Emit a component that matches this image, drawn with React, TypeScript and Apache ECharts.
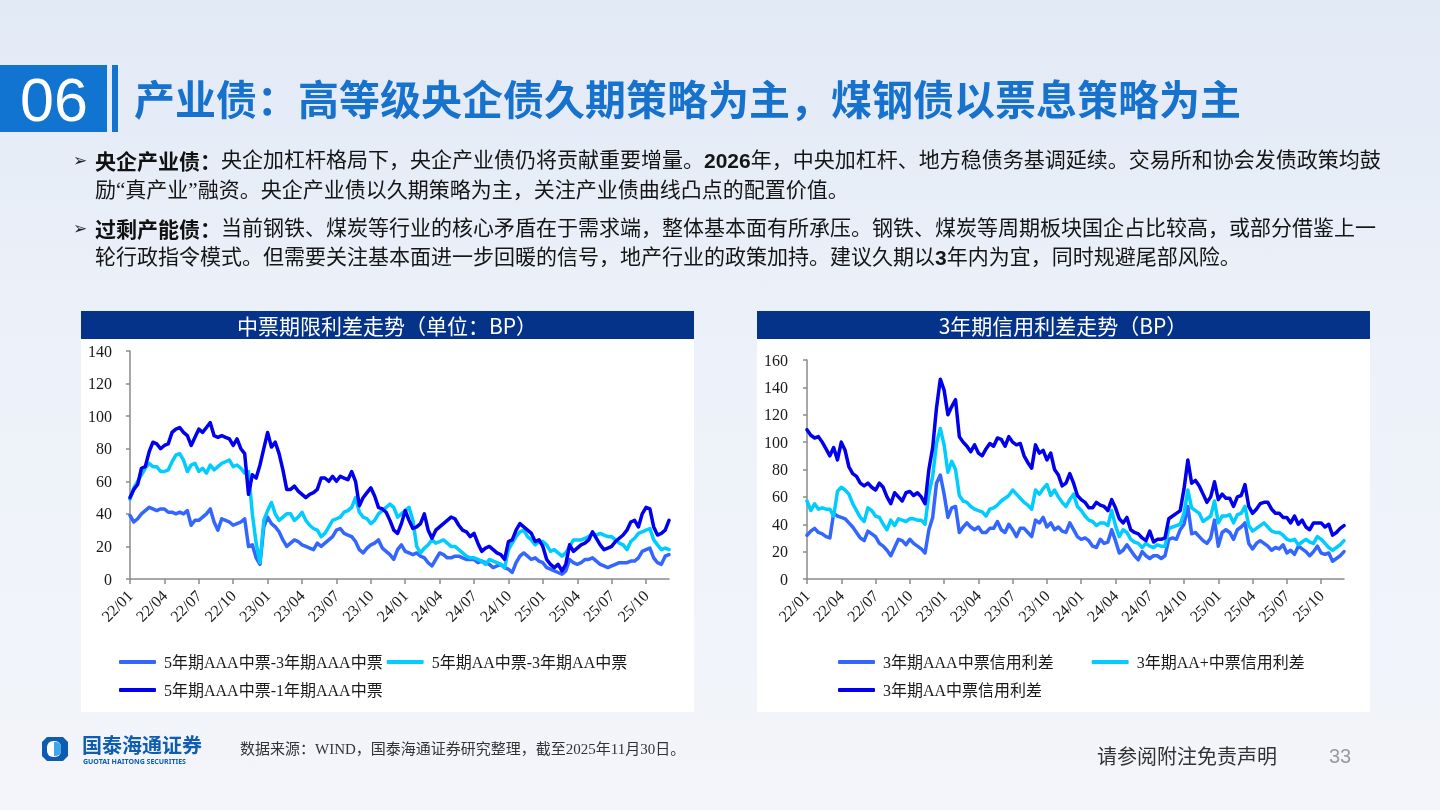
import { useEffect, useRef } from "react";
import * as echarts from "echarts";

// ---------- sampling dates: 1st / 11th / 21st of each month, plus the 2025-11-30 close ----------
const pad = (n: number) => (n < 10 ? "0" + n : "" + n);
function buildDates(): string[] {
  const out: string[] = [];
  for (let y = 2022; y <= 2025; y++) {
    for (let m = 1; m <= 12; m++) {
      if (y === 2025 && m > 11) break;
      for (const d of [1, 11, 21]) out.push(`${y}-${pad(m)}-${pad(d)}`);
    }
  }
  out.push("2025-11-30");
  return out;
}
const dates = buildDates();
const quarterMonths = ["01", "04", "07", "10"];

// ---------- left chart: 中票期限利差 (BP) ----------
const leftNames = ["5年期AAA中票-3年期AAA中票", "5年期AA中票-3年期AA中票", "5年期AAA中票-1年期AAA中票"];
const aaa5y3y = [
  39, 35, 37, 40, 42, 44, 43, 42, 43, 43, 41, 41, 40, 41, 40, 42, 33, 36, 36, 38, 40, 43, 35, 30, 37, 36, 35, 33, 34, 35, 37, 20, 21, 13, 9, 32,
  38, 34, 32, 29, 24, 20, 22, 24, 23, 21, 20, 19, 18, 22, 20, 22, 24, 26, 30, 31, 28, 27, 26, 23, 18, 16, 19, 21, 22, 24, 19, 17, 15, 12, 18, 21,
  17, 16, 15, 16, 14, 13, 10, 8, 12, 16, 15, 13, 13, 14, 14, 13, 12, 12, 12, 10, 11, 10, 9, 7, 8, 9, 7, 6, 4, 10, 14, 16, 14, 12, 13, 11,
  10, 7, 6, 5, 4, 3, 5, 12, 10, 9, 10, 12, 12, 13, 11, 9, 8, 7, 8, 9, 10, 10, 10, 11, 11, 13, 17, 18, 19, 13, 10, 9, 14, 15,
];
const aa5y3y = [
  49, 56, 60, 64, 68, 71, 69, 69, 66, 66, 67, 72, 76, 77, 73, 66, 70, 71, 66, 68, 65, 70, 67, 69, 71, 72, 73, 69, 70, 68, 65, 66, 40, 22, 10, 36,
  42, 47, 40, 36, 38, 40, 40, 36, 38, 41, 36, 33, 31, 30, 26, 28, 32, 36, 37, 38, 41, 42, 44, 50, 41, 38, 37, 34, 36, 40, 42, 44, 46, 44, 38, 40,
  42, 44, 36, 20, 16, 19, 21, 24, 22, 23, 24, 22, 20, 20, 18, 16, 14, 13, 13, 12, 11, 9, 12, 11, 10, 9, 7, 18, 22, 26, 29, 30, 26, 24, 21, 23,
  23, 21, 17, 18, 16, 14, 16, 20, 24, 24, 24, 25, 26, 28, 27, 28, 27, 26, 26, 24, 22, 21, 18, 23, 25, 28, 29, 30, 31, 24, 21, 18, 19, 18,
];
const aaa5y1y = [
  50, 55, 58, 68, 69, 78, 84, 83, 80, 82, 83, 90, 92, 93, 90, 88, 82, 87, 92, 90, 93, 96, 88, 87, 88, 87, 86, 82, 86, 80, 77, 52, 64, 62, 70, 80,
  90, 81, 84, 77, 67, 55, 55, 57, 54, 52, 50, 52, 53, 55, 62, 62, 60, 63, 60, 63, 62, 61, 66, 60, 45, 50, 53, 56, 51, 44, 43, 41, 36, 30, 28, 34,
  42, 36, 31, 32, 34, 40, 30, 25, 30, 32, 34, 36, 38, 37, 33, 30, 29, 26, 28, 22, 17, 19, 20, 18, 16, 15, 12, 23, 24, 30, 34, 32, 30, 28, 23, 24,
  20, 12, 9, 7, 9, 5, 9, 21, 17, 19, 21, 22, 24, 29, 25, 21, 18, 19, 20, 23, 25, 27, 30, 35, 36, 32, 40, 44, 43, 32, 27, 28, 30, 36,
];
const leftYTicks = [0, 20, 40, 60, 80, 100, 120, 140];

// ---------- right chart: 3年期信用利差 (BP) ----------
const rightNames = ["3年期AAA中票信用利差", "3年期AA+中票信用利差", "3年期AA中票信用利差"];
const aaa3y = [
  32, 35, 37, 34, 33, 31, 30, 48, 46, 45, 44, 41, 38, 34, 30, 28, 35, 33, 31, 26, 24, 21, 17, 23, 29, 28, 25, 29, 26, 24, 22, 19, 36, 45, 70, 76,
  62, 45, 52, 53, 34, 38, 41, 38, 36, 38, 34, 34, 37, 37, 42, 36, 34, 40, 36, 31, 37, 37, 34, 31, 43, 41, 45, 38, 41, 36, 38, 35, 34, 41, 36, 31,
  29, 30, 28, 24, 23, 29, 26, 27, 36, 28, 19, 21, 25, 21, 17, 14, 20, 17, 15, 17, 17, 15, 17, 29, 30, 29, 36, 40, 53, 33, 34, 31, 28, 26, 30, 43,
  24, 34, 36, 34, 29, 36, 38, 41, 26, 22, 26, 28, 26, 24, 21, 23, 22, 25, 19, 21, 18, 24, 22, 20, 17, 20, 24, 19, 18, 19, 13, 15, 17, 20,
];
const aaPlus3y = [
  57, 50, 55, 51, 52, 51, 51, 46, 64, 67, 65, 62, 55, 50, 45, 42, 52, 50, 46, 45, 40, 36, 43, 39, 44, 43, 42, 44, 44, 43, 43, 40, 62, 75, 99, 110,
  98, 78, 86, 80, 61, 57, 56, 53, 51, 50, 49, 46, 51, 52, 54, 57, 59, 61, 65, 62, 59, 56, 54, 51, 65, 62, 66, 69, 61, 65, 60, 56, 53, 58, 62, 53,
  50, 46, 43, 42, 39, 41, 41, 39, 50, 39, 31, 36, 34, 29, 27, 26, 23, 26, 24, 23, 25, 24, 24, 37, 38, 39, 40, 48, 65, 52, 50, 48, 42, 44, 46, 57,
  41, 46, 46, 47, 41, 47, 48, 53, 39, 35, 37, 39, 41, 38, 35, 34, 34, 32, 29, 28, 29, 25, 27, 29, 27, 26, 31, 29, 26, 23, 21, 23, 25, 28,
];
const aa3y = [
  109, 105, 103, 104, 100, 95, 90, 96, 87, 100, 94, 82, 77, 75, 70, 68, 70, 67, 65, 70, 67, 60, 55, 63, 60, 57, 63, 64, 61, 63, 60, 55, 80, 96, 125, 146,
  138, 120, 126, 131, 104, 100, 97, 93, 98, 92, 90, 95, 99, 97, 103, 102, 97, 104, 100, 98, 99, 90, 85, 81, 98, 92, 94, 87, 92, 80, 76, 68, 70, 77, 70, 61,
  58, 56, 52, 52, 56, 54, 53, 50, 58, 52, 44, 41, 45, 36, 34, 33, 30, 28, 35, 27, 29, 29, 30, 44, 46, 48, 50, 66, 87, 70, 72, 68, 62, 56, 60, 71,
  58, 62, 59, 59, 53, 60, 61, 69, 53, 48, 51, 55, 56, 56, 51, 48, 48, 45, 45, 41, 46, 40, 43, 38, 36, 41, 41, 41, 38, 40, 32, 34, 37, 39,
];
const rightYTicks = [0, 20, 40, 60, 80, 100, 120, 140, 160];

const colorMid = "#3366ff";
const colorCyan = "#00ccff";
const colorDark = "#0000ee";

// ---------- slide text ----------
const slideTitle = "产业债：高等级央企债久期策略为主，煤钢债以票息策略为主";
const bodyLines = [
  "{b|央企产业债：}央企加杠杆格局下，央企产业债仍将贡献重要增量。{d|2026}年，中央加杠杆、地方稳债务基调延续。交易所和协会发债政策均鼓",
  "励“真产业”融资。央企产业债以久期策略为主，关注产业债曲线凸点的配置价值。",
  "{b|过剩产能债：}当前钢铁、煤炭等行业的核心矛盾在于需求端，整体基本面有所承压。钢铁、煤炭等周期板块国企占比较高，或部分借鉴上一",
  "轮行政指令模式。但需要关注基本面进一步回暖的信号，地产行业的政策加持。建议久期以{d|3}年内为宜，同时规避尾部风险。",
];
const bodyLineY = [160, 190, 228, 257];
const bulletY = [160, 228];

const SERIF = "'Liberation Serif', 'Noto Sans CJK SC', serif";
const SANS_CJK = "'Noto Sans CJK SC', 'Noto Sans', sans-serif";
const AXIS_GRAY = "#8a8a8a";

function isQuarterStart(value: string) {
  return value.slice(8) === "01" && quarterMonths.includes(value.slice(5, 7));
}

function xAxisFor(gridIndex: number) {
  return {
    type: "category",
    gridIndex,
    data: dates,
    boundaryGap: false,
    axisLine: { lineStyle: { color: AXIS_GRAY, width: 1.5 } },
    axisTick: {
      interval: (_i: number, v: string) => isQuarterStart(v),
      length: 5,
      lineStyle: { color: AXIS_GRAY, width: 1.5 },
    },
    axisLabel: {
      interval: (_i: number, v: string) => isQuarterStart(v),
      formatter: (v: string) => v.slice(2, 4) + "/" + v.slice(5, 7),
      rotate: 45,
      margin: 14,
      fontFamily: SERIF,
      fontSize: 16,
      color: "#1a1a1a",
    },
    splitLine: { show: false },
  };
}

function yAxisFor(gridIndex: number, ticks: number[], margin: number) {
  return {
    type: "value",
    gridIndex,
    min: ticks[0],
    max: ticks[ticks.length - 1],
    interval: ticks[1] - ticks[0],
    axisLine: { show: true, lineStyle: { color: AXIS_GRAY, width: 1.5 } },
    axisTick: { show: true, length: 4, lineStyle: { color: AXIS_GRAY, width: 1.5 } },
    axisLabel: { margin, fontFamily: SERIF, fontSize: 16, color: "#1a1a1a" },
    splitLine: { show: false },
  };
}

function lineSeries(name: string, data: number[], color: string, idx: number) {
  return {
    type: "line",
    name,
    data,
    xAxisIndex: idx,
    yAxisIndex: idx,
    showSymbol: false,
    symbol: "none",
    silent: true,
    color,
    lineStyle: { color, width: 3.5, cap: "round", join: "round" },
    emphasis: { disabled: true },
  };
}

// horizontal spacing between items comes from the text's right padding so rows stay tight
function legendFor(names: string[], left: number, extraGap: number, width: number) {
  return {
    data: names,
    left,
    top: 645,
    width,
    orient: "horizontal",
    icon: "roundRect",
    itemWidth: 37,
    itemHeight: 4,
    itemGap: 4,
    selectedMode: false,
    textStyle: {
      fontFamily: SERIF,
      fontSize: 16,
      color: "#1a1a1a",
      lineHeight: 24,
      padding: [0, extraGap, 0, 3],
    },
  };
}

function panel(x: number, title: string) {
  return [
    { type: "rect", z: -1, shape: { x, y: 311, width: 613, height: 401 }, style: { fill: "#ffffff" } },
    { type: "rect", z: -1, shape: { x, y: 311, width: 613, height: 28 }, style: { fill: "#043389" } },
    {
      type: "text",
      x: x + 306,
      y: 325,
      style: {
        text: title,
        fill: "#ffffff",
        font: `21px ${SANS_CJK}`,
        align: "center",
        verticalAlign: "middle",
      },
    },
  ];
}

function buildGraphics() {
  const els: any[] = [];
  els.push({
    type: "rect",
    z: -2,
    shape: { x: 0, y: 0, width: 1440, height: 810 },
    style: {
      fill: new echarts.graphic.LinearGradient(0, 0, 0, 1, [
        { offset: 0, color: "#e2eaf6" },
        { offset: 0.45, color: "#edf1f9" },
        { offset: 1, color: "#f3f5fa" },
      ]),
    },
  });
  // section tag
  els.push({ type: "rect", shape: { x: 0, y: 65, width: 107, height: 67 }, style: { fill: "#1274d1" } });
  els.push({ type: "rect", shape: { x: 112, y: 65, width: 6, height: 67 }, style: { fill: "#1274d1" } });
  els.push({
    type: "text",
    x: 54,
    y: 100,
    style: { text: "06", fill: "#ffffff", font: "61px 'Liberation Sans', Arial, sans-serif", align: "center", verticalAlign: "middle" },
  });
  els.push({
    type: "text",
    x: 134,
    y: 97,
    style: { text: slideTitle, fill: "#1672cc", font: `bold 41px ${SANS_CJK}`, verticalAlign: "middle" },
  });
  // bullets + body
  bulletY.forEach((y) =>
    els.push({
      type: "text",
      x: 73,
      y,
      style: { text: "➢", fill: "#222222", font: "17px 'DejaVu Sans', sans-serif", verticalAlign: "middle" },
    })
  );
  bodyLines.forEach((t, i) =>
    els.push({
      type: "text",
      x: 95,
      y: bodyLineY[i],
      style: {
        text: t,
        fill: "#151515",
        font: `21px ${SERIF}`,
        verticalAlign: "middle",
        rich: {
          b: { fontWeight: "bold", fontSize: 21, fontFamily: SANS_CJK, fill: "#111111" },
          d: { fontWeight: "bold", fontSize: 21, fontFamily: "'Liberation Sans', sans-serif", fill: "#151515" },
        },
      },
    })
  );
  els.push(...panel(81, "中票期限利差走势（单位：BP）"));
  els.push(...panel(757, "3年期信用利差走势（BP）"));
  // footer logo
  els.push({
    type: "polygon",
    shape: { points: [[47, 737], [63, 737], [68, 742], [68, 756], [63, 761], [47, 761], [42, 756], [42, 742]] },
    style: { fill: "#0d5cb0" },
  });
  els.push({ type: "rect", shape: { x: 47, y: 741, width: 14, height: 16, r: 6 }, style: { fill: "#ffffff" } });
  els.push({ type: "rect", shape: { x: 54, y: 742, width: 7, height: 14, r: [0, 5, 5, 0] }, style: { fill: "#3fa6ee" } });
  els.push({
    type: "text",
    x: 82,
    y: 744,
    style: { text: "国泰海通证券", fill: "#0f5db3", font: `bold 20px ${SANS_CJK}`, verticalAlign: "middle" },
  });
  els.push({
    type: "text",
    x: 83,
    y: 761,
    style: { text: "GUOTAI HAITONG SECURITIES", fill: "#0f5db3", font: "bold 7px 'Noto Sans', sans-serif", verticalAlign: "middle" },
  });
  els.push({
    type: "text",
    x: 240,
    y: 749,
    style: { text: "数据来源：WIND，国泰海通证券研究整理，截至2025年11月30日。", fill: "#333333", font: `15px ${SERIF}`, verticalAlign: "middle" },
  });
  els.push({
    type: "text",
    x: 1097,
    y: 755,
    style: { text: "请参阅附注免责声明", fill: "#333333", font: `20px ${SANS_CJK}`, verticalAlign: "middle" },
  });
  els.push({
    type: "text",
    x: 1329,
    y: 756,
    style: { text: "33", fill: "#9a9a9a", font: "20px 'Liberation Sans', sans-serif", verticalAlign: "middle" },
  });
  return els;
}

export default function App() {
  const ref = useRef<HTMLDivElement>(null);
  useEffect(() => {
    if (!ref.current) return;
    const chart = echarts.init(ref.current, null, { renderer: "svg" });
    chart.setOption({
      animation: false,
      graphic: { elements: buildGraphics() },
      grid: [
        { left: 130, top: 351, width: 539, height: 228 },
        { left: 807, top: 360, width: 537, height: 219 },
      ],
      xAxis: [xAxisFor(0), xAxisFor(1)],
      yAxis: [yAxisFor(0, leftYTicks, 18), yAxisFor(1, rightYTicks, 19)],
      legend: [legendFor(leftNames, 114, 0, 540), legendFor(rightNames, 833, 34, 520)],
      series: [
        lineSeries(leftNames[0], aaa5y3y, colorMid, 0),
        lineSeries(leftNames[1], aa5y3y, colorCyan, 0),
        lineSeries(leftNames[2], aaa5y1y, colorDark, 0),
        lineSeries(rightNames[0], aaa3y, colorMid, 1),
        lineSeries(rightNames[1], aaPlus3y, colorCyan, 1),
        lineSeries(rightNames[2], aa3y, colorDark, 1),
      ],
    });
    return () => chart.dispose();
  }, []);
  return <div ref={ref} style={{ position: "fixed", left: 0, top: 0, width: 1440, height: 810 }} />;
}
